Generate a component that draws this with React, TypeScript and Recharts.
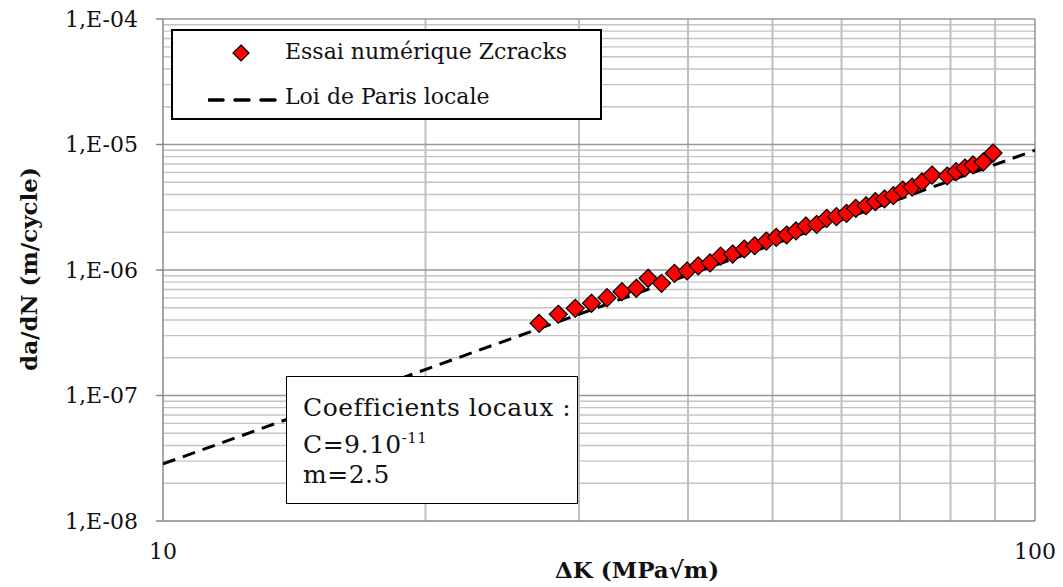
import { ReferenceLine, Scatter, ScatterChart, XAxis, YAxis } from "recharts";

// ΔK (MPa√m) of each simulated point
const deltaK = [
  27.0, 28.4, 29.7, 31.0, 32.3, 33.6, 34.9, 36.0, 37.3, 38.6, 39.9, 41.1, 42.4,
  43.6, 45.0, 46.4, 47.7, 49.2, 50.5, 51.9, 53.2, 54.6, 56.2, 57.7, 59.2, 60.8,
  62.3, 64.0, 65.6, 67.2, 68.8, 70.5, 72.3, 74.2, 76.2, 79.3, 81.2, 83.1, 84.9,
  87.2, 89.5,
];
// da/dN (m/cycle)
const dadN = [
  3.76e-7, 4.44e-7, 4.95e-7, 5.43e-7, 6.02e-7, 6.72e-7, 7.15e-7, 8.59e-7,
  7.83e-7, 9.41e-7, 9.82e-7, 1.08e-6, 1.14e-6, 1.29e-6, 1.34e-6, 1.47e-6,
  1.56e-6, 1.7e-6, 1.82e-6, 1.9e-6, 2.05e-6, 2.24e-6, 2.31e-6, 2.58e-6,
  2.66e-6, 2.83e-6, 3.1e-6, 3.25e-6, 3.5e-6, 3.68e-6, 3.91e-6, 4.34e-6,
  4.58e-6, 5.03e-6, 5.71e-6, 5.61e-6, 6.07e-6, 6.5e-6, 6.87e-6, 7.25e-6,
  8.55e-6,
];

// Paris law end points (C = 9e-11, m = 2.5)
const parisK = [10, 100];
const parisRate = [2.85e-8, 9.0e-6];

const xTicks = [10, 100];
const yTicks = [1e-8, 1e-7, 1e-6, 1e-5, 1e-4];

const points = deltaK.map((k, i) => ({ k, v: dadN[i] }));
const paris = parisK.map((k, i) => ({ k, v: parisRate[i] }));

const minorY: number[] = [];
for (let e = -8; e <= -5; e++) {
  for (let m = 2; m <= 9; m++) minorY.push(m * Math.pow(10, e));
}
const minorX = [20, 30, 40, 50, 60, 70, 80, 90];

const FONT = "'DejaVu Serif', serif";

function fmtY(v: number) {
  const e = Math.round(-Math.log10(v));
  return `1,E-${String(e).padStart(2, "0")}`;
}

function Diamond(props: any) {
  const { cx, cy } = props;
  const r = 9;
  return (
    <polygon
      points={`${cx},${cy - r} ${cx + r},${cy} ${cx},${cy + r} ${cx - r},${cy}`}
      fill="#ff0000"
      stroke="#000"
      strokeWidth={1.2}
    />
  );
}

export default function App() {
  return (
    <div
      style={{
        position: "absolute",
        left: 0,
        top: 0,
        width: 1063,
        height: 587,
        background: "#fff",
        fontFamily: FONT,
        color: "#111",
      }}
    >
      <ScatterChart
        width={1063}
        height={587}
        margin={{ top: 19, right: 28, bottom: 0, left: 0 }}
      >
        <XAxis
          dataKey="k"
          type="number"
          scale="log"
          domain={[10, 100]}
          ticks={xTicks}
          allowDataOverflow
          height={66}
          stroke="#888"
          strokeWidth={1.5}
          tickLine={false}
          tickMargin={16}
          tick={{ fontSize: 22, fill: "#111", fontFamily: FONT }}
        />
        <YAxis
          dataKey="v"
          type="number"
          scale="log"
          domain={[1e-8, 1e-4]}
          ticks={yTicks}
          allowDataOverflow
          width={163}
          stroke="#888"
          strokeWidth={1.5}
          tickSize={7}
          tickMargin={18}
          tickFormatter={fmtY}
          tick={{ fontSize: 22, fill: "#111", fontFamily: FONT }}
        />
        {minorY.map((y) => (
          <ReferenceLine key={`hy${y}`} y={y} stroke="#c4c4c4" strokeWidth={1.4} />
        ))}
        {minorX.map((x) => (
          <ReferenceLine key={`vx${x}`} x={x} stroke="#c0c0c0" strokeWidth={2} />
        ))}
        {yTicks.slice(1).map((y) => (
          <ReferenceLine key={`my${y}`} y={y} stroke="#999" strokeWidth={1.6} />
        ))}
        <ReferenceLine x={100} stroke="#999" strokeWidth={1.6} />
        <Scatter
          data={paris}
          line={{ stroke: "#000", strokeWidth: 3, strokeDasharray: "13 8" }}
          lineType="joint"
          shape={() => <g />}
          isAnimationActive={false}
        />
        <Scatter data={points} shape={Diamond} isAnimationActive={false} />
      </ScatterChart>

      {/* axis titles */}
      <div
        style={{
          position: "absolute",
          left: 637,
          top: 569,
          transform: "translate(-50%, -50%)",
          fontWeight: "bold",
          fontSize: 23,
          whiteSpace: "nowrap",
        }}
      >
        ΔK (MPa√m)
      </div>
      <div
        style={{
          position: "absolute",
          left: 28,
          top: 269,
          transform: "translate(-50%, -50%) rotate(-90deg)",
          fontWeight: "bold",
          fontSize: 23,
          whiteSpace: "nowrap",
        }}
      >
        da/dN (m/cycle)
      </div>

      {/* legend */}
      <div
        style={{
          position: "absolute",
          left: 171,
          top: 29,
          width: 431,
          height: 91,
          boxSizing: "border-box",
          border: "2px solid #000",
          background: "#fff",
          fontSize: 22,
        }}
      >
        <svg
          width={20}
          height={20}
          style={{ position: "absolute", left: 58, top: 12 }}
        >
          <polygon points="10,2 18,10 10,18 2,10" fill="#ff0000" stroke="#000" strokeWidth={1.2} />
        </svg>
        <div style={{ position: "absolute", left: 112, top: 8, whiteSpace: "nowrap" }}>
          Essai numérique Zcracks
        </div>
        <svg
          width={72}
          height={8}
          style={{ position: "absolute", left: 35, top: 65 }}
        >
          <line x1={1} y1={4} x2={70} y2={4} stroke="#000" strokeWidth={3.5} strokeDasharray="14 12" strokeLinecap="round" />
        </svg>
        <div style={{ position: "absolute", left: 112, top: 53, whiteSpace: "nowrap" }}>
          Loi de Paris locale
        </div>
      </div>

      {/* coefficients box */}
      <div
        style={{
          position: "absolute",
          left: 286,
          top: 376,
          width: 292,
          height: 128,
          boxSizing: "border-box",
          border: "1.5px solid #000",
          background: "#fff",
          fontSize: 25,
          letterSpacing: 0.5,
          lineHeight: "30px",
          padding: "16px 0 0 16px",
        }}
      >
        <div style={{ whiteSpace: "nowrap" }}>Coefficients locaux :</div>
        <div>
          C=9.10<sup style={{ fontSize: 15, verticalAlign: 10 }}>-11</sup>
        </div>
        <div>m=2.5</div>
      </div>
    </div>
  );
}
